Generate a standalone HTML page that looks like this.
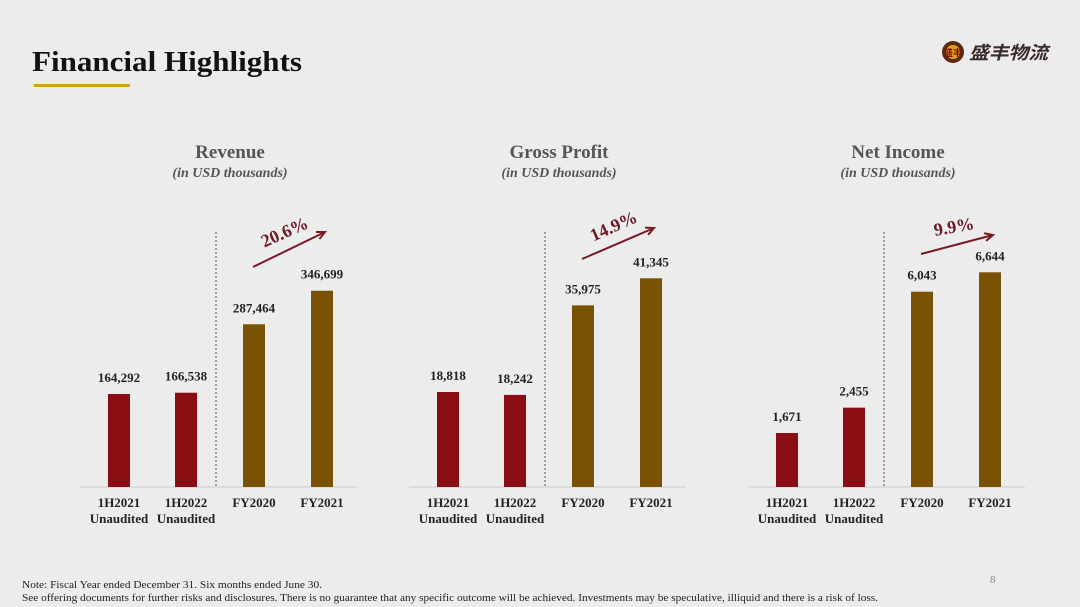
<!DOCTYPE html>
<html><head><meta charset="utf-8"><style>
body{margin:0;background:#ececec;}
svg{display:block;font-family:"Liberation Serif",serif;}
</style></head><body>
<svg id="s" width="1080" height="607" viewBox="0 0 1080 607" xmlns="http://www.w3.org/2000/svg">
<rect width="1080" height="607" fill="#ececec"/>
<text x="32" y="71" font-size="29" font-weight="bold" fill="#111" textLength="270" lengthAdjust="spacingAndGlyphs">Financial Highlights</text>
<rect x="34" y="84" width="96" height="3" fill="#d4a017"/>
<g>
<circle cx="953" cy="52" r="11" fill="#5a2a10"/>
<circle cx="953" cy="52" r="7" fill="#e0a020"/>
<text x="953" y="56" font-size="9" text-anchor="middle" font-weight="bold" fill="#7a1010" font-family="'Noto Sans CJK SC',sans-serif">盛丰</text>
<text x="969" y="59" font-size="18" font-weight="bold" font-style="italic" fill="#3a2a2a" textLength="79" lengthAdjust="spacingAndGlyphs" font-family="'Noto Sans CJK SC',sans-serif">盛丰物流</text>
</g>
<g id="charts"></g>
<text x="22" y="588" font-size="10" fill="#222" textLength="300" lengthAdjust="spacingAndGlyphs">Note: Fiscal Year ended December 31. Six months ended June 30.</text>
<text x="22" y="601" font-size="10" fill="#222" textLength="856" lengthAdjust="spacingAndGlyphs">See offering documents for further risks and disclosures. There is no guarantee that any specific outcome will be achieved. Investments may be speculative, illiquid and there is a risk of loss.</text>
<text x="990" y="583" font-size="11" fill="#888">8</text>
</svg>
<script>
const chartTitles=["Revenue","Gross Profit","Net Income"];
const categories=["1H2021","1H2022","FY2020","FY2021"];
const subLabels=["Unaudited","Unaudited","",""];
const revenueValues=[164292,166538,287464,346699];
const grossProfitValues=[18818,18242,35975,41345];
const netIncomeValues=[1671,2455,6043,6644];
const growthLabels=["20.6%","14.9%","9.9%"];
const seriesList=[revenueValues,grossProfitValues,netIncomeValues];
const NS="http://www.w3.org/2000/svg";
const g=document.getElementById("charts");
function mk(tag,attrs,parent){const e=document.createElementNS(NS,tag);for(const k in attrs)e.setAttribute(k,attrs[k]);(parent||g).appendChild(e);return e;}
const offsets=[0,329,668];
const baseY=487;
const pxPer=[93/164292,95/18818,54/1671];
seriesList.forEach((vals,ci)=>{
  const ox=offsets[ci];
  const grp=mk("g",{});
  
  
  const cx=ox+230;
  const t=mk("text",{x:cx,y:158,"font-size":19,"font-weight":"bold",fill:"#555","text-anchor":"middle"},grp);t.textContent=chartTitles[ci];
  
  
  const st=mk("text",{x:cx,y:177,"font-size":14,"font-weight":"bold","font-style":"italic",fill:"#555","text-anchor":"middle"},grp);st.textContent="(in USD thousands)";
  
  
  const ax=mk("line",{x1:ox+80,x2:ox+357,y1:baseY,y2:baseY,stroke:"#d8d8d8","stroke-width":1.5},grp);
  
  
  const dv=mk("line",{x1:ox+216,x2:ox+216,y1:232,y2:baseY,stroke:"#555","stroke-width":1,"stroke-dasharray":"2,2"},grp);
  
  
  const xs=[108,175,243,311];
  vals.forEach((v,i)=>{
    const h=v*pxPer[ci];const x=ox+xs[i];
    const b=mk("rect",{x:x,y:baseY-h,width:22,height:h,fill:i<2?"#8b0d14":"#7a5206"},grp);
    
    
    const vl=mk("text",{x:x+11,y:baseY-h-12,"font-size":13,"font-weight":"bold",fill:"#222","text-anchor":"middle"},grp);
    vl.textContent=v.toLocaleString("en-US");
    
    
    const cl=mk("text",{x:x+11,y:507,"font-size":13,"font-weight":"bold",fill:"#222","text-anchor":"middle"},grp);
    cl.textContent=categories[i];
    
    
    if(subLabels[i]){const sl=mk("text",{x:x+11,y:523,"font-size":13,"font-weight":"bold",fill:"#222","text-anchor":"middle"},grp);sl.textContent=subLabels[i];
    
    }
  });
  const x1=ox+253,x2=ox+325;
  const sy=ci===2?254:(ci===1?259:267), ey=ci===2?235:(ci===1?228:232);
  const ag=mk("g",{},grp);
  
  
  const ang=Math.atan2(ey-sy,x2-x1);
  mk("line",{x1:x1,y1:sy,x2:x2,y2:ey,stroke:"#7a1a22","stroke-width":2},ag);
  const hx=x2,hy=ey,L=9;
  mk("polyline",{points:`${hx-L*Math.cos(ang-0.45)},${hy-L*Math.sin(ang-0.45)} ${hx},${hy} ${hx-L*Math.cos(ang+0.45)},${hy-L*Math.sin(ang+0.45)}`,fill:"none",stroke:"#7a1a22","stroke-width":2},ag);
  const mx=(x1+x2)/2-2,my=(sy+ey)/2-12;
  const deg=ci===2?-10:-24;
  const gt=mk("text",{x:mx,y:my,"font-size":18,"font-weight":"bold",fill:"#6e1a22","text-anchor":"middle",transform:`rotate(${deg} ${mx} ${my})`},ag);
  gt.textContent=growthLabels[ci];
  
  
});
</script>
</body></html>
